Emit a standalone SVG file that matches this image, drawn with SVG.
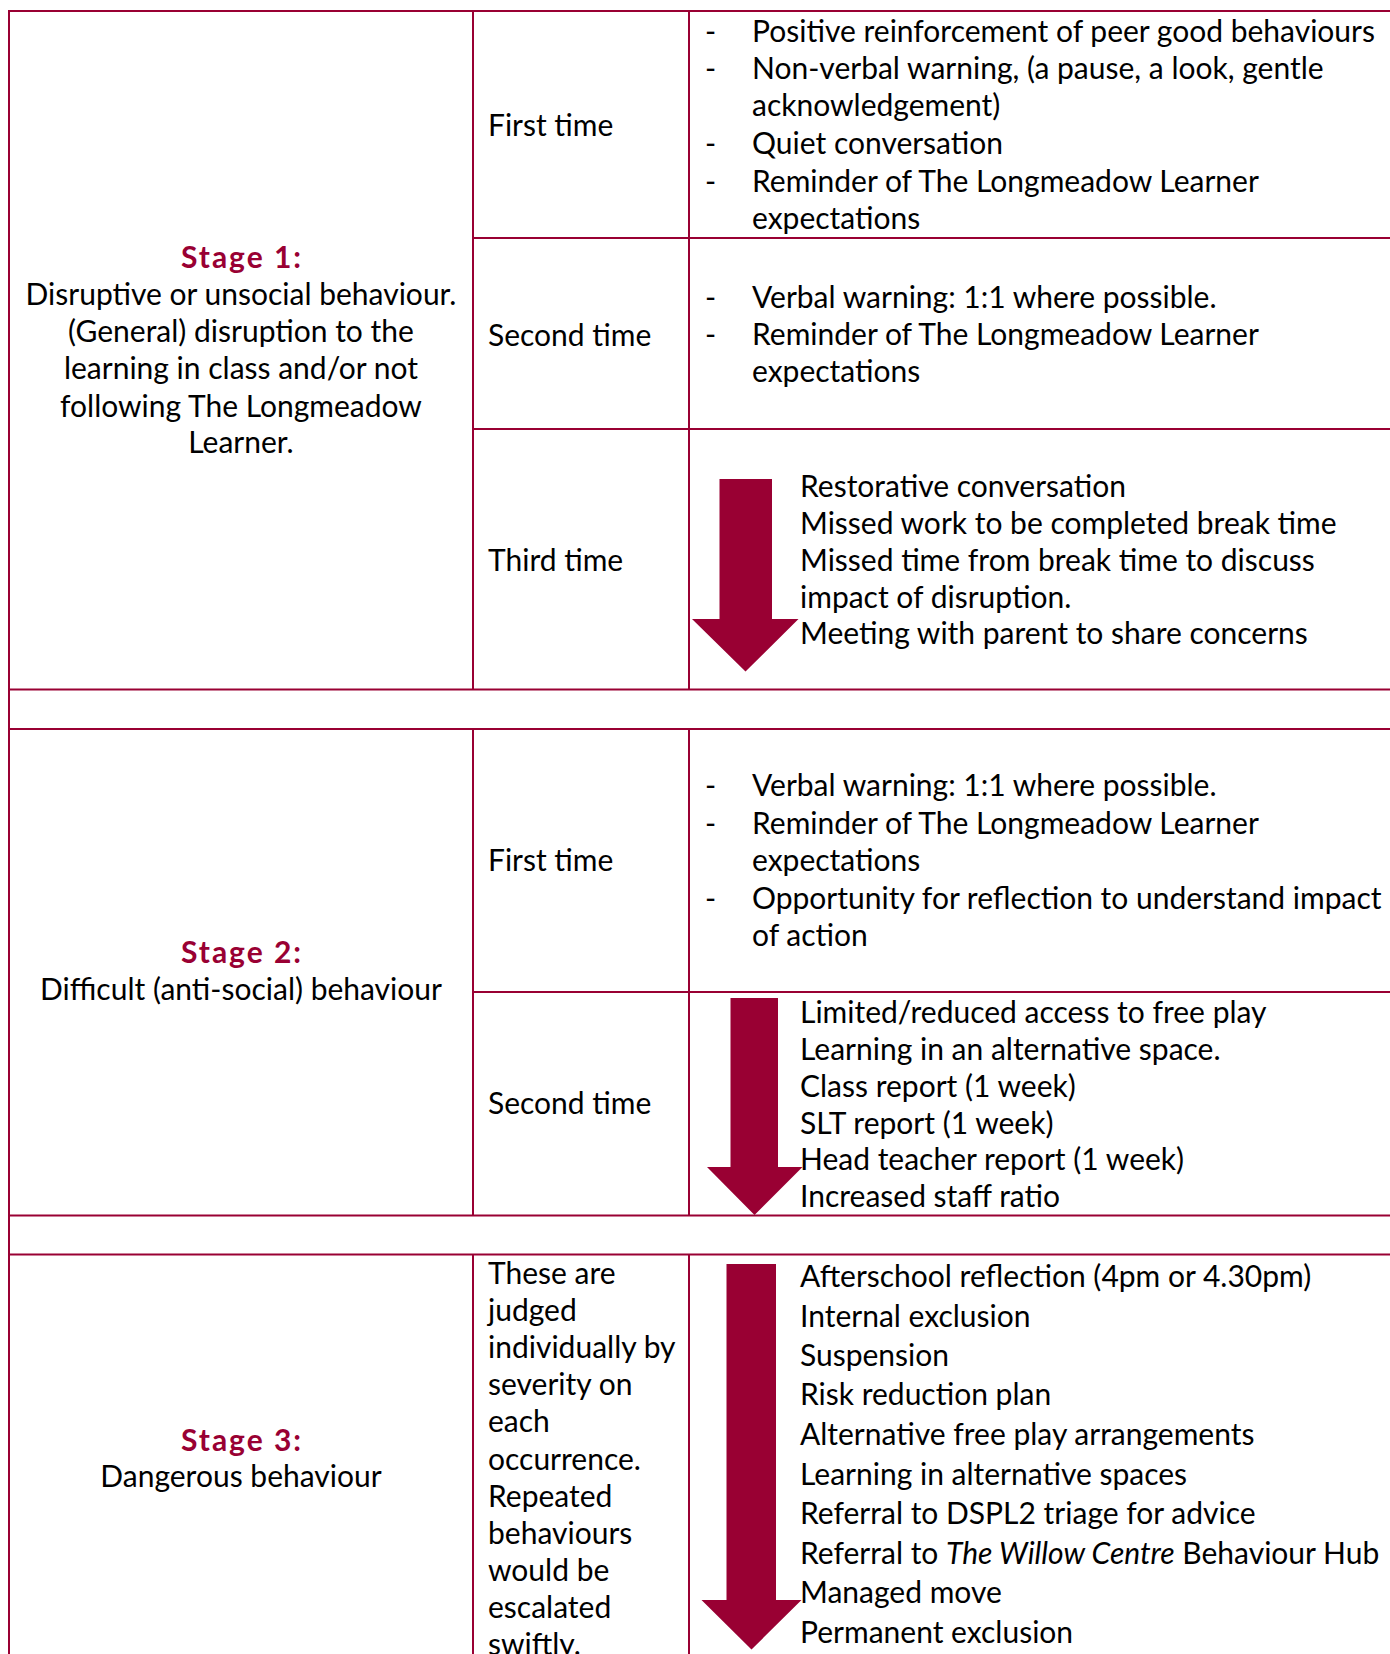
<svg xmlns="http://www.w3.org/2000/svg" width="1390" height="1654" viewBox="0 0 1390 1654">
<style>
  .t { font-family: Lato, "Open Sans", "Liberation Sans", sans-serif; font-size: 30px; fill: #000; }
  .c { text-anchor: middle; }
  .st { font-weight: bold; fill: #990033; }
  .g line { stroke: #990033; stroke-width: 2; }
  .arrow { fill: #990033; }
</style>
<rect width="1390" height="1654" fill="#fff"/>
<g id="grid" class="g">
  <line x1="9" y1="11" x2="1390" y2="11"/>
  <line x1="473" y1="238" x2="1390" y2="238"/>
  <line x1="473" y1="429" x2="1390" y2="429"/>
  <line x1="9" y1="689.5" x2="1390" y2="689.5"/>
  <line x1="9" y1="729" x2="1390" y2="729"/>
  <line x1="473" y1="992" x2="1390" y2="992"/>
  <line x1="9" y1="1215.5" x2="1390" y2="1215.5"/>
  <line x1="9" y1="1254.5" x2="1390" y2="1254.5"/>
  <line x1="9" y1="10" x2="9" y2="1654"/>
  <line x1="473" y1="11" x2="473" y2="689.5"/>
  <line x1="473" y1="729" x2="473" y2="1215.5"/>
  <line x1="473" y1="1254.5" x2="473" y2="1654"/>
  <line x1="689" y1="11" x2="689" y2="689.5"/>
  <line x1="689" y1="729" x2="689" y2="1215.5"/>
  <line x1="689" y1="1254.5" x2="689" y2="1654"/>
</g>
<g id="arrows">
  <path class="arrow" d="M719.5,479 H772 V619 H798.5 L745.5,671.5 L692,619 H719.5 Z"/>
  <path class="arrow" d="M730.5,998 H778 V1167 H802.5 L754.5,1215 L707,1167 H730.5 Z"/>
  <path class="arrow" d="M726.5,1264 H776 V1600 H801.5 L751.5,1649.5 L701.5,1600 H726.5 Z"/>
</g>
<g id="stage1">
  <text class="t c st" x="241" y="268" textLength="120" lengthAdjust="spacing">Stage 1:</text>
  <text class="t c" x="241" y="305">Disruptive or unsocial behaviour.</text>
  <text class="t c" x="241" y="342">(General) disruption to the</text>
  <text class="t c" x="241" y="379">learning in class and/or not</text>
  <text class="t c" x="241" y="417">following The Longmeadow</text>
  <text class="t c" x="241" y="453">Learner.</text>
</g>
<g id="s1-first-label"><text class="t" x="488" y="136">First time</text></g>
<g id="s1-second-label"><text class="t" x="488" y="346">Second time</text></g>
<g id="s1-third-label"><text class="t" x="488" y="571">Third time</text></g>
<g id="s1-first-actions">
  <text class="t" x="705" y="42">-</text><text class="t" x="752" y="42">Positive reinforcement of peer good behaviours</text>
  <text class="t" x="705" y="79">-</text><text class="t" x="752" y="79">Non-verbal warning, (a pause, a look, gentle</text>
  <text class="t" x="752" y="116">acknowledgement)</text>
  <text class="t" x="705" y="154">-</text><text class="t" x="752" y="154">Quiet conversation</text>
  <text class="t" x="705" y="192">-</text><text class="t" x="752" y="192">Reminder of The Longmeadow Learner</text>
  <text class="t" x="752" y="229">expectations</text>
</g>
<g id="s1-second-actions">
  <text class="t" x="705" y="308">-</text><text class="t" x="752" y="308">Verbal warning: 1:1 where possible.</text>
  <text class="t" x="705" y="345">-</text><text class="t" x="752" y="345">Reminder of The Longmeadow Learner</text>
  <text class="t" x="752" y="382">expectations</text>
</g>
<g id="s1-third-actions">
  <text class="t" x="800" y="497">Restorative conversation</text>
  <text class="t" x="800" y="533.5">Missed work to be completed break time</text>
  <text class="t" x="800" y="570.5">Missed time from break time to discuss</text>
  <text class="t" x="800" y="607.5">impact of disruption.</text>
  <text class="t" x="800" y="644">Meeting with parent to share concerns</text>
</g>
<g id="stage2">
  <text class="t c st" x="241" y="963" textLength="120" lengthAdjust="spacing">Stage 2:</text>
  <text class="t c" x="241" y="1000">Difficult (anti-social) behaviour</text>
</g>
<g id="s2-first-label"><text class="t" x="488" y="871">First time</text></g>
<g id="s2-second-label"><text class="t" x="488" y="1114">Second time</text></g>
<g id="s2-first-actions">
  <text class="t" x="705" y="796">-</text><text class="t" x="752" y="796">Verbal warning: 1:1 where possible.</text>
  <text class="t" x="705" y="834">-</text><text class="t" x="752" y="834">Reminder of The Longmeadow Learner</text>
  <text class="t" x="752" y="871">expectations</text>
  <text class="t" x="705" y="909">-</text><text class="t" x="752" y="909">Opportunity for reflection to understand impact</text>
  <text class="t" x="752" y="946">of action</text>
</g>
<g id="s2-second-actions">
  <text class="t" x="800" y="1023">Limited/reduced access to free play</text>
  <text class="t" x="800" y="1060">Learning in an alternative space.</text>
  <text class="t" x="800" y="1097">Class report (1 week)</text>
  <text class="t" x="800" y="1133.5">SLT report (1 week)</text>
  <text class="t" x="800" y="1170">Head teacher report (1 week)</text>
  <text class="t" x="800" y="1207">Increased staff ratio</text>
</g>
<g id="stage3">
  <text class="t c st" x="241" y="1451" textLength="120" lengthAdjust="spacing">Stage 3:</text>
  <text class="t c" x="241" y="1487">Dangerous behaviour</text>
</g>
<g id="s3-label">
  <text class="t" x="488" y="1284">These are</text>
  <text class="t" x="488" y="1321">judged</text>
  <text class="t" x="488" y="1358">individually by</text>
  <text class="t" x="488" y="1395">severity on</text>
  <text class="t" x="488" y="1432">each</text>
  <text class="t" x="488" y="1470">occurrence.</text>
  <text class="t" x="488" y="1507">Repeated</text>
  <text class="t" x="488" y="1544">behaviours</text>
  <text class="t" x="488" y="1581">would be</text>
  <text class="t" x="488" y="1618">escalated</text>
  <text class="t" x="488" y="1655">swiftly.</text>
</g>
<g id="s3-actions">
  <text class="t" x="800" y="1287">Afterschool reflection (4pm or 4.30pm)</text>
  <text class="t" x="800" y="1327">Internal exclusion</text>
  <text class="t" x="800" y="1366">Suspension</text>
  <text class="t" x="800" y="1405">Risk reduction plan</text>
  <text class="t" x="800" y="1445">Alternative free play arrangements</text>
  <text class="t" x="800" y="1485">Learning in alternative spaces</text>
  <text class="t" x="800" y="1524">Referral to DSPL2 triage for advice</text>
  <text class="t" x="800" y="1563.5">Referral to <tspan font-style="italic">The Willow Centre</tspan> Behaviour Hub</text>
  <text class="t" x="800" y="1603">Managed move</text>
  <text class="t" x="800" y="1643">Permanent exclusion</text>
</g>
</svg>
